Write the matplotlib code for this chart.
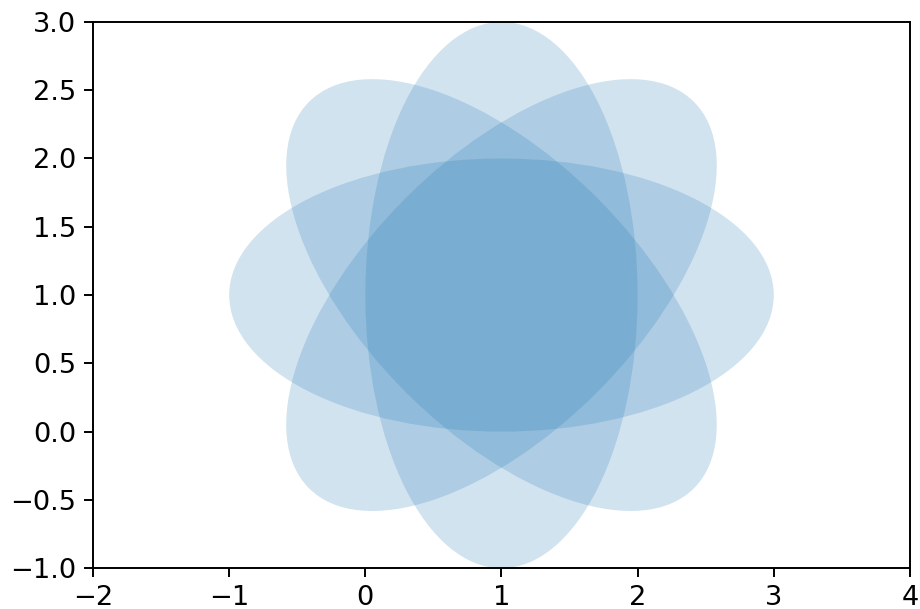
import matplotlib
matplotlib.use("Agg")
import matplotlib.pyplot as plt
from matplotlib.patches import Ellipse

center = (1, 1)
width = 4
height = 2
angles = [0, 45, 90, 135]

plt.rcParams['font.size'] = 11.2
fig = plt.figure(figsize=(921 / 175, 609 / 175), dpi=175)
ax = fig.add_axes([0.101, 0.067, 0.887, 0.897])

for angle in angles:
    e = Ellipse(center, width, height, angle=angle, alpha=0.2, color='C0', linewidth=0)
    ax.add_patch(e)

ax.set_xlim(-2, 4)
ax.set_ylim(-1, 3)
fig.savefig("out.png", dpi=175)
